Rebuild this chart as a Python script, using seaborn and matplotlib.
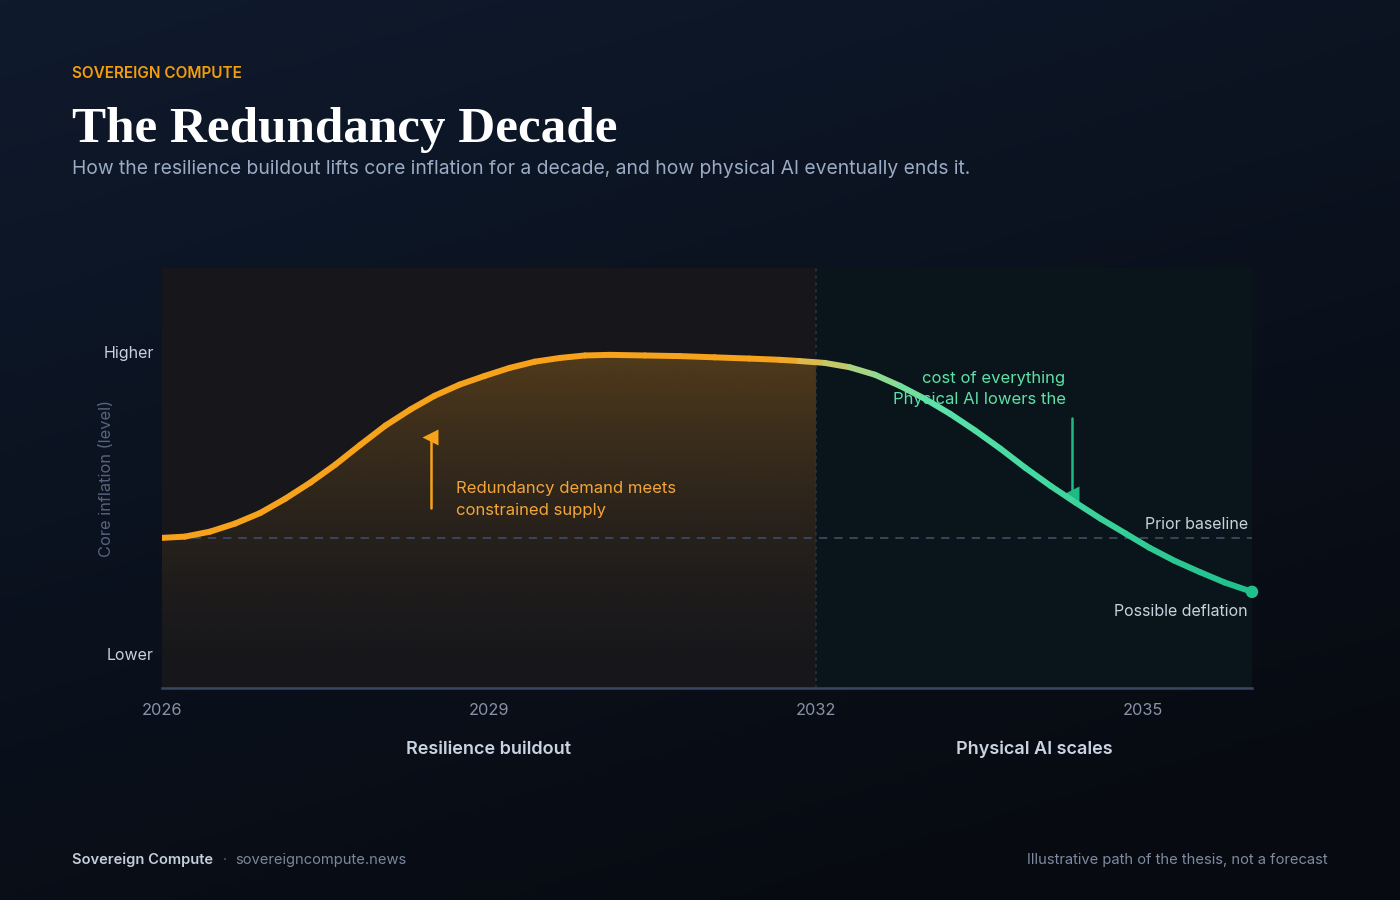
import numpy as np
import matplotlib
matplotlib.use("Agg")
import matplotlib.pyplot as plt
import seaborn as sns
from matplotlib.collections import LineCollection
from matplotlib.colors import LinearSegmentedColormap, to_rgb

# path (level relative to the prior baseline = 0)
years = [2026.00, 2026.21, 2026.44, 2026.67, 2026.90, 2027.13, 2027.36, 2027.59,
         2027.82, 2028.05, 2028.28, 2028.50, 2028.73, 2028.96, 2029.19, 2029.42,
         2029.65, 2029.88, 2030.11, 2030.43, 2030.75, 2031.07, 2031.39, 2031.67,
         2031.85, 2032.08, 2032.31, 2032.54, 2032.77, 2033.00, 2033.23, 2033.46,
         2033.69, 2033.92, 2034.15, 2034.38, 2034.61, 2034.84, 2035.06, 2035.29,
         2035.52, 2035.75, 2036.00]
level = [0.00, 0.02, 0.10, 0.23, 0.40, 0.63, 0.89, 1.18,
         1.50, 1.81, 2.07, 2.29, 2.47, 2.61, 2.74, 2.84,
         2.90, 2.94, 2.95, 2.94, 2.93, 2.91, 2.89, 2.87,
         2.85, 2.82, 2.75, 2.63, 2.45, 2.24, 2.00, 1.73,
         1.44, 1.13, 0.84, 0.57, 0.31, 0.07, -0.16, -0.37,
         -0.55, -0.72, -0.87]
baseline = 0.0
split_year = 2032
xtick_years = [2026, 2029, 2032, 2035]
ytick_pos = [3.0, -1.87]
ytick_labels = ["Higher", "Lower"]
phases = ["Resilience buildout", "Physical AI scales"]

ORANGE = "#f7a21b"
GREEN = "#1fc08c"
SANS = ["Inter", "DejaVu Sans"]
YMIN, YMAX = -2.42, 4.35

sns.set_theme(style="white")
plt.rcParams["font.family"] = SANS
plt.rcParams["lines.scale_dashes"] = False

fig = plt.figure(figsize=(14, 9), dpi=100)

# background gradient
bg = fig.add_axes([0, 0, 1, 1], zorder=-10)
gx, gy = np.meshgrid(np.linspace(0, 1, 200), np.linspace(0, 1, 200))
t = np.clip(0.75 * gy + 0.35 * gx, 0, 1)
top, bot = np.array(to_rgb("#0f1a2d")), np.array(to_rgb("#070a10"))
bg.imshow(top * (1 - t[..., None]) + bot * t[..., None], aspect="auto",
          extent=[0, 1, 0, 1], origin="upper")
bg.set_axis_off()

ax = fig.add_axes([162 / 1400, 1 - 688 / 900, 1090 / 1400, 420 / 900])
ax.set_facecolor("none")
ax.set_xlim(2026, 2036)
ax.set_ylim(YMIN, YMAX)

ax.axvspan(2026, split_year, color="#17171b", zorder=0, lw=0)
ax.axvspan(split_year, 2036, color="#0a151b", zorder=0, lw=0)

# orange glow under the buildout part of the curve
poly = ax.fill_between(years, level, YMIN, color="none", lw=0)
grad = np.zeros((200, 2, 4))
grad[..., :3] = to_rgb(ORANGE)
grad[..., 3] = 0.26 * np.linspace(1, 0, 200)[:, None] ** 1.6
img = ax.imshow(grad, extent=[2026, split_year, YMIN, 3.0], aspect="auto",
                origin="upper", zorder=1)
img.set_clip_path(poly.get_paths()[0], transform=ax.transData)

ax.axhline(baseline, color="#3b4861", lw=1.3, dashes=(6, 5), zorder=2)
ax.axvline(split_year, color="#2a3446", lw=1.2, dashes=(2, 3), zorder=2)

# curve with orange -> green colour shift
pts = np.column_stack([years, level])
segs = np.stack([pts[:-1], pts[1:]], axis=1)
mid = (np.array(years[:-1]) + np.array(years[1:])) / 2
cmap = LinearSegmentedColormap.from_list(
    "shift", [(0, ORANGE), (0.57, ORANGE), (0.60, "#d8bd55"), (0.65, "#9fd88a"),
              (0.71, "#5ee3aa"), (0.80, "#45d9a0"), (1, GREEN)])
lc = LineCollection(segs, colors=cmap((mid - 2026) / 10), linewidths=4.3,
                    capstyle="round", joinstyle="round", zorder=4)
ax.add_collection(lc)
sns.scatterplot(x=[years[-1]], y=[level[-1]], color=GREEN, s=80, ax=ax,
                zorder=5, clip_on=False, edgecolor="none")

# annotations
ax.plot([2028.47, 2028.47], [0.48, 1.58], color=ORANGE, lw=1.8, zorder=3)
ax.plot(2028.46, 1.62, marker="<", ms=11, color=ORANGE, mec="none", zorder=3)
ax.text(2028.70, 0.62, "Redundancy demand meets\nconstrained supply", color="#f2a53a",
        fontsize=12, va="center", ha="left", linespacing=1.52, zorder=5)

ax.plot([2034.35, 2034.35], [1.94, 0.66], color="#1fb985", lw=1.8, zorder=3)
ax.plot(2034.34, 0.71, marker="<", ms=11, color="#1fb985", mec="none", zorder=3)
ax.text(2034.29, 2.40, "cost of everything\nPhysical AI lowers the", color="#5ee0a6",
        fontsize=12, va="center", ha="right", linespacing=1.52, zorder=5)

ax.text(2035.96, 0.21, "Prior baseline", color="#c9d1dd", fontsize=11.5,
        ha="right", va="center", zorder=5)
ax.text(2035.96, -1.19, "Possible deflation", color="#c9d1dd", fontsize=11.5,
        ha="right", va="center", zorder=5)

# axes styling
for s in ["top", "right", "left"]:
    ax.spines[s].set_visible(False)
ax.spines["bottom"].set_color("#3a4760")
ax.spines["bottom"].set_linewidth(1.8)
ax.spines["bottom"].set_zorder(6)
ax.set_xticks(xtick_years)
ax.set_xticklabels([str(y) for y in xtick_years], color="#8893a8", fontsize=11.8)
ax.set_yticks(ytick_pos)
ax.set_yticklabels(ytick_labels, color="#c9d1dd", fontsize=11.5)
ax.tick_params(axis="x", length=0, pad=11)
ax.tick_params(axis="y", length=0, pad=6)
ax.grid(False)

fig.text(106 / 1400, 1 - 478 / 900, "Core inflation (level)", rotation=90,
         color="#56647c", fontsize=11.8, ha="center", va="center")
fig.text(489 / 1400, 1 - 749 / 900, phases[0], color="#c9d3e2", fontsize=13,
         weight="semibold", ha="center", va="center")
fig.text(1034 / 1400, 1 - 749 / 900, phases[1], color="#c9d3e2", fontsize=13,
         weight="semibold", ha="center", va="center")

# header
fig.text(72 / 1400, 1 - 74 / 900, "SOVEREIGN COMPUTE", color="#f59e0b",
         fontsize=11, weight="semibold", ha="left", va="center")
fig.text(72 / 1400, 1 - 142 / 900, "The Redundancy Decade", color="white",
         fontsize=36.8, weight="bold", family=["Liberation Serif", "DejaVu Serif"],
         ha="left", va="baseline")
fig.text(72 / 1400, 1 - 169 / 900,
         "How the resilience buildout lifts core inflation for a decade, and how physical AI eventually ends it.",
         color="#9aabc3", fontsize=13.9, ha="left", va="center")

# footer
fig.text(72 / 1400, 1 - 860 / 900, "Sovereign Compute", color="#c5cedb",
         fontsize=10.6, weight="semibold", ha="left", va="center")
fig.text(225 / 1400, 1 - 860 / 900, "·", color="#5d687c", fontsize=10.5,
         ha="center", va="center")
fig.text(235 / 1400, 1 - 860 / 900, "sovereigncompute.news", color="#7b879b",
         fontsize=10.6, ha="left", va="center")
fig.text(1328 / 1400, 1 - 860 / 900, "Illustrative path of the thesis, not a forecast",
         color="#7f8aa0", fontsize=10.6, ha="right", va="center")

fig.savefig("out.png", dpi=100)
